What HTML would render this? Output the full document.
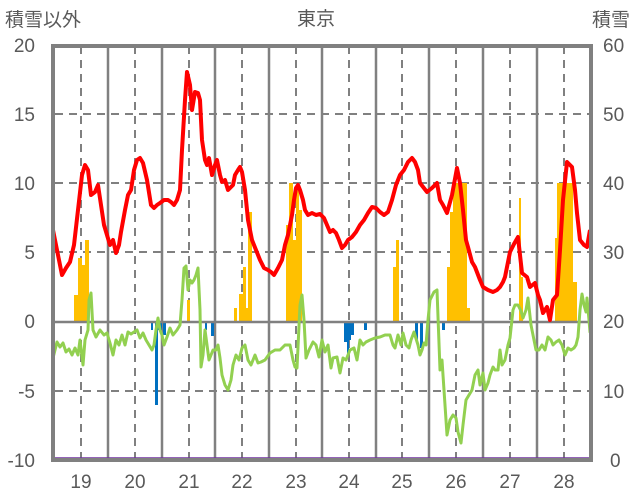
<!DOCTYPE html>
<html><head><meta charset="utf-8"><style>
html,body{margin:0;padding:0;background:#fff;}
svg{display:block;font-family:"Liberation Sans","Noto Sans CJK JP",sans-serif;}
</style></head><body>
<svg width="636" height="501" viewBox="0 0 636 501" xmlns="http://www.w3.org/2000/svg">
<rect width="636" height="501" fill="#fff"/>
<!-- solid vertical grid -->
<g stroke="#808080" stroke-width="2.5">
<line x1="108" y1="46" x2="108" y2="460"/><line x1="162" y1="46" x2="162" y2="460"/>
<line x1="215" y1="46" x2="215" y2="460"/><line x1="269" y1="46" x2="269" y2="460"/>
<line x1="322" y1="46" x2="322" y2="460"/><line x1="376" y1="46" x2="376" y2="460"/>
<line x1="429" y1="46" x2="429" y2="460"/><line x1="483" y1="46" x2="483" y2="460"/>
<line x1="537" y1="46" x2="537" y2="460"/>
</g>
<g stroke="#808080" stroke-width="2" stroke-dasharray="8,6">
<line x1="81" y1="46" x2="81" y2="460"/><line x1="135" y1="46" x2="135" y2="460"/>
<line x1="189" y1="46" x2="189" y2="460"/><line x1="242" y1="46" x2="242" y2="460"/>
<line x1="296" y1="46" x2="296" y2="460"/><line x1="349" y1="46" x2="349" y2="460"/>
<line x1="402" y1="46" x2="402" y2="460"/><line x1="456" y1="46" x2="456" y2="460"/>
<line x1="510" y1="46" x2="510" y2="460"/><line x1="564" y1="46" x2="564" y2="460"/>
<line x1="55" y1="114" x2="591" y2="114"/><line x1="55" y1="183" x2="591" y2="183"/>
<line x1="55" y1="252" x2="591" y2="252"/><line x1="55" y1="391" x2="591" y2="391"/>
</g>
<!-- yellow bars -->
<g fill="#FFC000">
<rect x="74" y="295" width="4" height="27"/><rect x="78" y="258" width="4" height="64"/><rect x="82" y="265" width="3" height="57"/><rect x="85" y="240" width="4" height="82"/>
<rect x="187" y="300" width="3" height="22"/>
<rect x="234" y="308" width="3" height="14"/><rect x="239" y="294" width="4" height="28"/><rect x="243" y="267" width="3" height="55"/><rect x="246" y="308" width="2" height="14"/><rect x="248" y="212" width="4" height="110"/>
<rect x="286" y="225" width="3" height="97"/><rect x="289" y="183" width="4" height="139"/><rect x="293" y="240" width="3" height="82"/><rect x="296" y="185" width="3" height="137"/><rect x="299" y="210" width="3" height="112"/>
<rect x="393" y="267" width="3" height="55"/><rect x="396" y="240" width="3" height="82"/>
<rect x="447" y="267" width="3" height="55"/><rect x="450" y="212" width="3" height="110"/><rect x="453" y="183" width="14" height="139"/><rect x="467" y="308" width="3" height="14"/>
<rect x="519" y="198" width="2" height="124"/><rect x="521" y="277" width="2" height="45"/>
<rect x="555" y="238" width="2" height="84"/><rect x="557" y="183" width="16" height="139"/><rect x="573" y="282" width="4" height="40"/>
</g>
<!-- blue bars -->
<g fill="#0070C0">
<rect x="151" y="322" width="2" height="8"/><rect x="155" y="322" width="3" height="83"/><rect x="158" y="322" width="4" height="8"/><rect x="163" y="322" width="3" height="13"/>
<rect x="205" y="322" width="2" height="8"/><rect x="211" y="322" width="3" height="14"/>
<rect x="344" y="322" width="3" height="20"/><rect x="347" y="322" width="2" height="33"/><rect x="349" y="322" width="2" height="18"/><rect x="351" y="322" width="3" height="13"/><rect x="364" y="322" width="3" height="8"/>
<rect x="415" y="322" width="3" height="18"/><rect x="420" y="322" width="3" height="26"/><rect x="442" y="322" width="3" height="8"/>
</g>
<line x1="55" y1="322" x2="591" y2="322" stroke="#808080" stroke-width="2.5"/>
<!-- green line -->
<polyline fill="none" stroke="#92D050" stroke-width="3" stroke-linejoin="round" points="53,358 57,342 60,347 63,343 66,352 69,349 72,355 75,348 78,355 80,340 83,365 85,340 88,330 89,300 91,293 93,330 96,337 100,330 104,335 107,333 110,343 113,355 116,340 119,345 122,335 125,345 128,332 131,334 134,332 137,330 140,338 143,333 146,340 149,345 152,350 154,345 156,330 158,318 160,330 162,335 164,345 167,337 170,328 173,335 177,330 180,325 182,300 184,268 186,266 188,290 190,280 192,283 194,280 196,275 198,268 200,310 201,367 203,355 205,330 207,345 209,360 211,355 213,350 216,350 218,345 220,358 222,375 225,385 228,390 231,380 233,365 236,355 239,360 242,348 245,345 248,360 251,365 255,355 258,363 261,362 265,360 270,353 275,350 280,350 285,345 290,345 293,360 295,367 297,368 300,305 302,295 304,320 306,358 309,350 313,342 316,345 319,357 322,340 325,352 328,345 331,368 333,358 337,357 340,373 343,358 346,360 350,350 354,348 357,360 360,340 363,345 366,342 370,340 375,338 380,337 385,335 390,335 393,345 395,348 398,335 401,345 403,333 406,345 409,348 411,340 414,332 418,345 420,355 422,350 424,343 426,345 428,320 430,300 434,292 437,290 440,370 442,360 444,390 447,435 450,420 453,415 456,418 458,432 461,443 463,425 466,400 469,395 472,390 475,375 478,370 480,385 483,373 485,390 488,383 490,375 493,367 495,370 498,370 500,350 502,365 505,360 508,345 510,338 513,310 515,305 518,305 521,311 523,318 526,310 528,298 531,325 533,335 536,350 539,350 542,345 545,350 548,337 551,340 553,345 556,342 559,340 562,345 565,355 568,348 571,350 574,348 576,345 578,337 580,310 582,294 584,305 586,312 587,298 589,320 590,332 591,330"/>
<!-- red line -->
<polyline fill="none" stroke="#FF0000" stroke-width="4" stroke-linejoin="round" points="53,230 57,250 62,275 66,268 70,262 74,245 78,210 82,175 85,165 88,170 91,195 95,192 98,185 101,205 104,225 107,235 110,245 113,240 116,253 119,245 121,232 125,210 128,195 131,190 134,170 137,160 140,158 143,163 147,180 151,205 154,208 157,205 160,203 164,200 168,200 171,202 174,205 177,200 180,190 182,150 185,100 187,72 190,85 192,110 195,92 198,93 200,100 202,140 205,160 207,165 209,158 212,175 215,165 217,160 220,175 222,182 225,180 228,190 230,188 233,185 235,175 238,170 240,167 242,172 245,190 248,220 252,240 256,250 260,260 264,268 268,270 271,272 274,275 278,268 282,260 285,245 288,235 290,225 292,215 294,200 296,188 298,185 300,190 303,200 305,210 308,215 312,213 316,215 320,214 324,218 327,225 330,232 333,230 336,233 339,240 342,248 345,245 348,240 352,237 356,232 360,225 364,220 368,213 372,207 376,208 380,212 384,215 388,212 392,200 396,185 400,175 404,170 408,162 412,158 415,162 418,170 420,183 427,192 432,188 437,183 440,200 443,205 447,213 452,195 457,168 460,183 463,210 466,240 468,247 472,262 475,267 480,280 483,287 488,290 493,292 497,290 500,287 503,282 505,277 508,262 510,252 514,244 518,237 520,255 522,273 527,277 530,287 535,283 538,295 540,300 543,313 547,307 550,320 553,300 557,295 560,250 563,200 567,162 572,167 575,190 577,213 580,240 584,245 587,247 590,230"/>
<!-- frame -->
<line x1="53" y1="459" x2="591" y2="459" stroke="#7030A0" stroke-width="3.5"/>
<rect x="53" y="46" width="538" height="414" fill="none" stroke="#808080" stroke-width="4"/>
<!-- labels -->
<g fill="#595959" font-size="19">
<text x="43" y="26" text-anchor="middle">積雪以外</text>
<text x="316" y="25" text-anchor="middle">東京</text>
<text x="611" y="26" text-anchor="middle">積雪</text>
</g>
<g fill="#595959" font-size="19" text-anchor="end">
<text x="35" y="52">20</text><text x="35" y="121">15</text><text x="35" y="190">10</text><text x="35" y="259">5</text><text x="35" y="328">0</text><text x="35" y="398">-5</text><text x="35" y="467">-10</text>
</g>
<g fill="#595959" font-size="19">
<text x="603" y="52">60</text><text x="603" y="121">50</text><text x="603" y="190">40</text><text x="603" y="259">30</text><text x="603" y="328">20</text><text x="603" y="398">10</text><text x="610" y="467">0</text>
</g>
<g fill="#595959" font-size="19" text-anchor="middle">
<text x="81" y="488">19</text><text x="135" y="488">20</text><text x="189" y="488">21</text><text x="242" y="488">22</text><text x="296" y="488">23</text><text x="349" y="488">24</text><text x="402" y="488">25</text><text x="456" y="488">26</text><text x="510" y="488">27</text><text x="564" y="488">28</text>
</g>
</svg>
</body></html>
